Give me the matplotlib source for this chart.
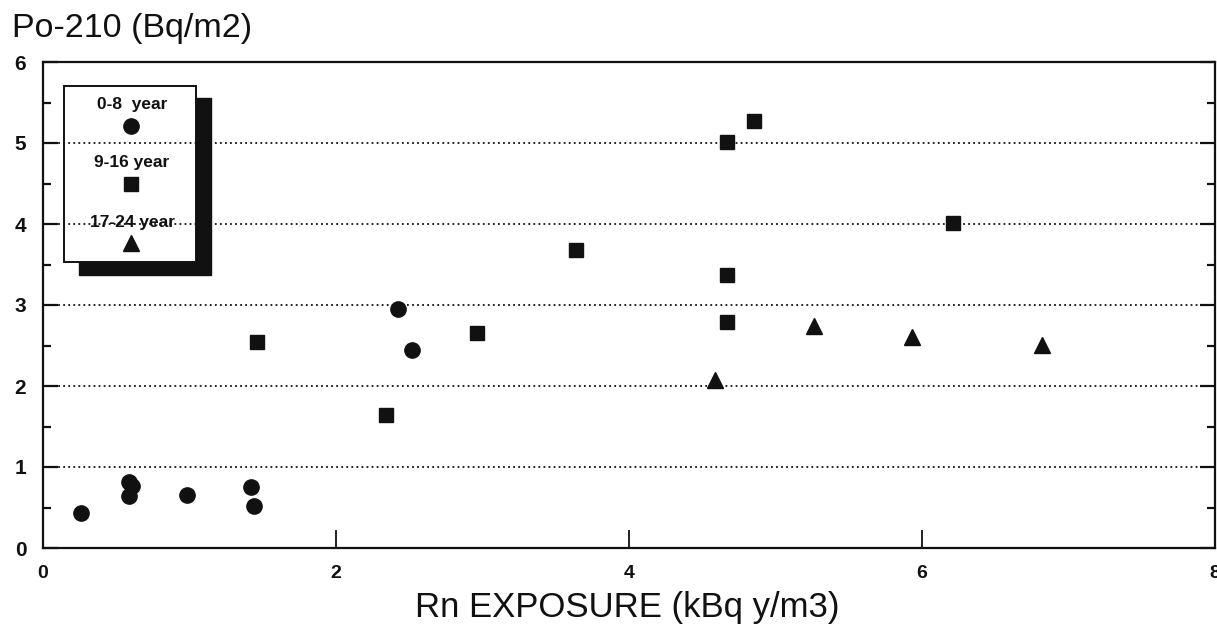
import matplotlib
matplotlib.use("Agg")
import matplotlib.pyplot as plt
from matplotlib.patches import Rectangle
import numpy as np

plt.rcParams['font.family'] = ['Liberation Sans', 'DejaVu Sans']

# Po-210 surface activity vs. radon exposure, three age groups
age_groups = ["0-8  year", "9-16 year", "17-24 year"]

x_0_8 = [0.26, 0.59, 0.61, 0.59, 0.98, 1.42, 1.44, 2.42, 2.52]
y_0_8 = [0.43, 0.82, 0.76, 0.64, 0.65, 0.75, 0.52, 2.95, 2.44]

x_9_16 = [1.46, 2.34, 2.96, 3.64, 4.67, 4.85, 4.67, 4.67, 6.21]
y_9_16 = [2.54, 1.64, 2.65, 3.68, 5.01, 5.27, 3.37, 2.79, 4.01]

x_17_24 = [4.59, 5.26, 5.93, 6.82]
y_17_24 = [2.07, 2.74, 2.61, 2.51]

x_ticks = [0, 2, 4, 6, 8]
y_ticks = [0, 1, 2, 3, 4, 5, 6]
grid_levels = [1, 2, 3, 4, 5]

ink = '#111111'

###########################################################################################################

fig = plt.figure(figsize=(12.17, 6.24), dpi=100)
ax = fig.add_axes([43 / 1217, 76 / 624, 1172 / 1217, 486 / 624])

ax.set_xlim(0, 8)
ax.set_ylim(0, 6)

# dotted horizontal grid
for g in grid_levels:
    ax.axhline(g, color=ink, lw=1.3, ls=(0, (1, 1.8)), zorder=3)

ax.plot(x_0_8, y_0_8, 'o', color=ink, ms=11, mec=ink, zorder=5, ls='none')
ax.plot(x_9_16, y_9_16, 's', color=ink, ms=10, mec=ink, zorder=5, ls='none')
ax.plot(x_17_24, y_17_24, '^', color=ink, ms=12, mec=ink, zorder=5, ls='none')

for s in ax.spines.values():
    s.set_linewidth(1.6)
    s.set_color(ink)

ax.set_xticks(x_ticks)
ax.set_yticks(y_ticks)
ax.set_yticks(np.arange(0.5, 6, 1.0), minor=True)
ax.tick_params(axis='x', which='major', direction='in', length=13, width=1.3,
               pad=12, labelsize=14, colors=ink)
ax.tick_params(axis='y', which='major', direction='in', length=11, width=1.6,
               pad=12, labelsize=15, colors=ink, right=True)
ax.tick_params(axis='y', which='minor', direction='in', length=6, width=1.6,
               right=True, colors=ink)
for lab in ax.get_yticklabels() + ax.get_xticklabels():
    lab.set_fontweight('bold')

# legend box with drop shadow, text above each marker
shadow = Rectangle((79 / 1217, 1 - 275 / 624), 132 / 1217, 177 / 624,
                   transform=fig.transFigure, facecolor=ink, edgecolor=ink, zorder=1)
box = Rectangle((64 / 1217, 1 - 262 / 624), 132 / 1217, 176 / 624,
                transform=fig.transFigure, facecolor='white', edgecolor=ink,
                lw=1.4, zorder=2)
ax.add_patch(shadow)
ax.add_patch(box)

leg_markers = ['o', 's', '^']
leg_sizes = [11, 10, 12]
text_y = [105, 163, 222]
mark_y = [126, 184, 243]
for lab, m, ms, ty, my in zip(age_groups, leg_markers, leg_sizes, text_y, mark_y):
    fig.text(132 / 1217, 1 - ty / 624, lab, ha='center', va='center',
             fontsize=12.5, fontweight='bold', color=ink, zorder=6)
    ax.plot([131 / 1217], [1 - my / 624], m, color=ink, ms=ms,
            transform=fig.transFigure, zorder=6, clip_on=False)

fig.text(12 / 1217, 1 - 37 / 624, "Po-210 (Bq/m2)", ha='left', va='baseline',
         fontsize=24.5, color=ink)
fig.text(627 / 1217, 1 - 617 / 624, "Rn EXPOSURE (kBq y/m3)", ha='center',
         va='baseline', fontsize=25, color=ink)

fig.savefig("out.png", dpi=100)
